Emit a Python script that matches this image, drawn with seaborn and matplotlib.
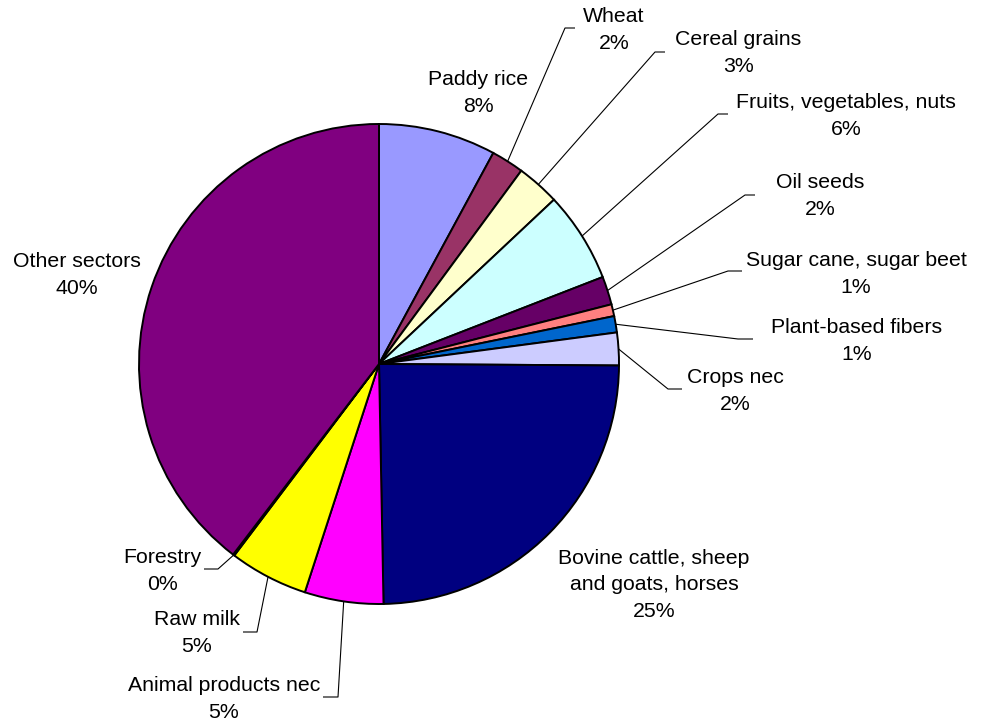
import matplotlib
matplotlib.use("Agg")
import matplotlib.pyplot as plt
import numpy as np
import seaborn as sns

# Sector shares (percent of total)
sectors = [
    "Paddy rice", "Wheat", "Cereal grains", "Fruits, vegetables, nuts",
    "Oil seeds", "Sugar cane, sugar beet", "Plant-based fibers", "Crops nec",
    "Bovine cattle, sheep\nand goats, horses", "Animal products nec",
    "Raw milk", "Forestry", "Other sectors",
]
shares = [7.9, 2.2, 2.9, 6.1, 1.9, 0.8, 1.1, 2.2, 24.6, 5.3, 5.3, 0.1, 39.6]
colors = [
    "#9999FF", "#993366", "#FFFFCC", "#CCFFFF", "#660066", "#FF8080",
    "#0066CC", "#CCCCFF", "#000080", "#FF00FF", "#FFFF00", "#00FFFF",
    "#800080",
]

# Label layout in pixel space: (centre x, block centre y, leader elbow, leader end)
label_layout = [
    (478, 91, None, None),
    (614, 28, (565, 28), (575, 28)),
    (738, 51, (655, 52), (665, 52)),
    (846, 114, (718, 114), (728, 114)),
    (820, 194, (745, 195), (755, 195)),
    (856, 272, (728, 271), (742, 271)),
    (857, 339, (738, 339), (753, 339)),
    (735, 389, (668, 389), (682, 389)),
    (654, 583, None, None),
    (224, 697, (338, 697), (323, 697)),
    (197, 631, (257, 632), (243, 632)),
    (162, 569, (218, 569), (204, 569)),
    (77, 273, None, None),
]

sns.set_theme(style="white")
plt.rcParams["font.family"] = ["Liberation Sans", "DejaVu Sans"]

W, H = 983, 723
fig = plt.figure(figsize=(W / 100, H / 100), dpi=100)
ax = fig.add_axes([0, 0, 1, 1])

cx, cy, radius = 379, 364, 240
wedges, _ = ax.pie(
    shares, colors=colors, startangle=-90, counterclock=True,
    center=(cx, cy), radius=radius, frame=True,
    wedgeprops=dict(edgecolor="black", linewidth=1.4),
)
ax.set_xlim(0, W)
ax.set_ylim(H, 0)
ax.set_aspect("equal")
ax.axis("off")

fs = 15.3
pitch = 26.5
cap_half = 7.5
for w, name, val, (lx, ly, elbow, end) in zip(wedges, sectors, shares, label_layout):
    lines = name.split("\n") + [f"{val:.0f}%"]
    n = len(lines)
    for i, t in enumerate(lines):
        by = ly + (i - (n - 1) / 2) * pitch + cap_half
        ax.text(lx, by, t, ha="center", va="baseline", fontsize=fs, color="black")
    if elbow is not None:
        mid = np.deg2rad((w.theta1 + w.theta2) / 2)
        sx = cx + radius * np.cos(mid)
        sy = cy + radius * np.sin(mid)
        ax.plot([sx, elbow[0], end[0]], [sy, elbow[1], end[1]],
                color="black", linewidth=0.8, solid_capstyle="butt")

fig.savefig("out.png", dpi=100, facecolor="white")
